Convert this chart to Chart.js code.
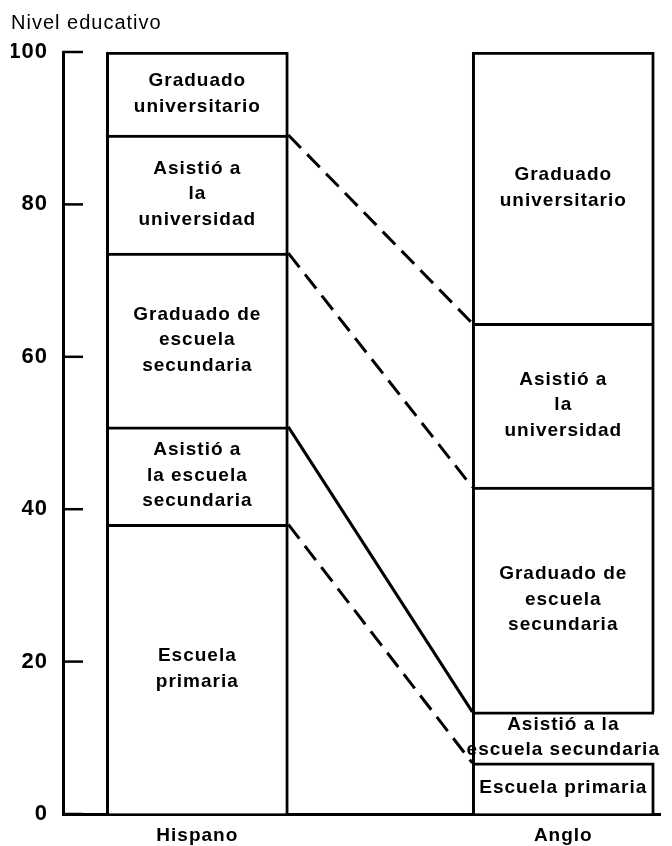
<!DOCTYPE html>
<html>
<head>
<meta charset="utf-8">
<script src="https://cdn.jsdelivr.net/npm/chart.js@4.4.1/dist/chart.umd.min.js"></script>
<style>
  body { margin: 0; background: #fff; }
</style>
</head>
<body>
<canvas id="myChart" width="672" height="846"></canvas>
<script>
const categories = ['Hispano', 'Anglo'];
const levels = [
    'Escuela primaria',
    'Asistió a la escuela secundaria',
    'Graduado de escuela secundaria',
    'Asistió a la universidad',
    'Graduado universitario'
];
const hispano = [38, 12.8, 22.8, 15.5, 10.9];
const anglo = [6.7, 6.7, 29.5, 21.5, 35.6];
const hispanoLabels = [
    ['Escuela', 'primaria'],
    ['Asistió a', 'la escuela', 'secundaria'],
    ['Graduado de', 'escuela', 'secundaria'],
    ['Asistió a', 'la', 'universidad'],
    ['Graduado', 'universitario']
];
const angloLabels = [
    ['Escuela primaria'],
    ['Asistió a la', 'escuela secundaria'],
    ['Graduado de', 'escuela', 'secundaria'],
    ['Asistió a', 'la', 'universidad'],
    ['Graduado', 'universitario']
];
const yTicks = [0, 20, 40, 60, 80, 100];

// layout: where the two bars sit on the 0-100 horizontal scale
const barCenters = [22.5, 83.8];
// boundary lines between the bars (top of segment 0..3)
const connectorDash = [[18, 9], [], [18, 9], [18, 9]];

const FONT = '"Liberation Sans", Arial, sans-serif';

const datasets = levels.map((lvl, i) => ({
    label: lvl,
    data: [
        { x: barCenters[0], y: hispano[i] },
        { x: barCenters[1], y: anglo[i] }
    ],
    backgroundColor: '#ffffff',
    borderColor: '#000000',
    borderWidth: (c) => (c.datasetIndex === 1 && c.dataIndex === 1)
        ? { left: 3, top: 3, right: 0, bottom: 0 } : 3,
    barThickness: 182
}));

const spacingPlugin = {
    id: 'spacing',
    beforeDraw(chart) {
        chart.ctx.letterSpacing = '1px';
    }
};

const segmentPlugin = {
    id: 'segments',
    afterDatasetsDraw(chart) {
        const ctx = chart.ctx;
        ctx.save();
        // connecting lines between the two bars
        ctx.strokeStyle = '#000';
        ctx.lineWidth = 3;
        for (let i = 0; i < connectorDash.length; i++) {
            const meta = chart.getDatasetMeta(i);
            const a = meta.data[0];
            const b = meta.data[1];
            ctx.setLineDash(connectorDash[i]);
            ctx.beginPath();
            ctx.moveTo(a.x + a.width / 2, a.y);
            ctx.lineTo(b.x - b.width / 2, b.y);
            ctx.stroke();
        }
        ctx.setLineDash([]);

        // text inside each segment
        ctx.fillStyle = '#000';
        ctx.font = 'bold 19px ' + FONT;
        ctx.letterSpacing = '1px';
        ctx.textAlign = 'center';
        ctx.textBaseline = 'middle';
        const lh = 25.5;
        for (let i = 0; i < levels.length; i++) {
            const meta = chart.getDatasetMeta(i);
            [hispanoLabels, angloLabels].forEach((labels, j) => {
                const el = meta.data[j];
                const lines = labels[i];
                const cy = (el.y + el.base) / 2;
                let y = cy - (lines.length - 1) * lh / 2;
                lines.forEach(line => {
                    ctx.fillText(line, el.x, y);
                    y += lh;
                });
            });
        }

        // inward tick marks on the y axis
        const yScale = chart.scales.y;
        const left = chart.chartArea.left;
        ctx.lineWidth = 2.5;
        yTicks.forEach(v => {
            const y = yScale.getPixelForValue(v);
            ctx.beginPath();
            ctx.moveTo(left, y);
            ctx.lineTo(left + 20, y);
            ctx.stroke();
        });
        ctx.restore();
    }
};

const ctx = document.getElementById('myChart').getContext('2d');
const myChart = new Chart(ctx, {
    type: 'bar',
    data: { datasets: datasets },
    plugins: [spacingPlugin, segmentPlugin],
    options: {
        responsive: false,
        animation: false,
        layout: {
            padding: { left: 11, right: 12, top: 0, bottom: 0 }
        },
        plugins: {
            legend: { display: false },
            tooltip: { enabled: false },
            title: {
                display: true,
                text: 'Nivel educativo',
                align: 'start',
                color: '#000',
                font: { family: FONT, size: 20, weight: 'normal' },
                padding: { top: 11, bottom: 17 }
            }
        },
        scales: {
            x: {
                type: 'linear',
                min: 0,
                max: 100,
                offset: false,
                stacked: true,
                grid: { display: true, drawOnChartArea: false, drawTicks: false, offset: false },
                border: { display: true, color: '#000', width: 3 },
                afterBuildTicks: (scale) => {
                    scale.ticks = barCenters.map(v => ({ value: v }));
                },
                afterFit: (scale) => { scale.height = 32; },
                ticks: {
                    autoSkip: false,
                    maxRotation: 0,
                    padding: 10,
                    color: '#000',
                    font: { family: FONT, size: 19, weight: 'bold' },
                    callback: (value) => categories[barCenters.indexOf(value)]
                }
            },
            y: {
                min: 0,
                max: 100,
                stacked: true,
                grid: { display: true, drawOnChartArea: false, drawTicks: false },
                border: { display: true, color: '#000', width: 3 },
                afterBuildTicks: (scale) => {
                    scale.ticks = yTicks.map(v => ({ value: v }));
                },
                afterFit: (scale) => { scale.width = 52; },
                ticks: {
                    padding: 15,
                    color: '#000',
                    font: { family: FONT, size: 22, weight: 'bold' }
                }
            }
        }
    }
});
</script>
</body>
</html>
